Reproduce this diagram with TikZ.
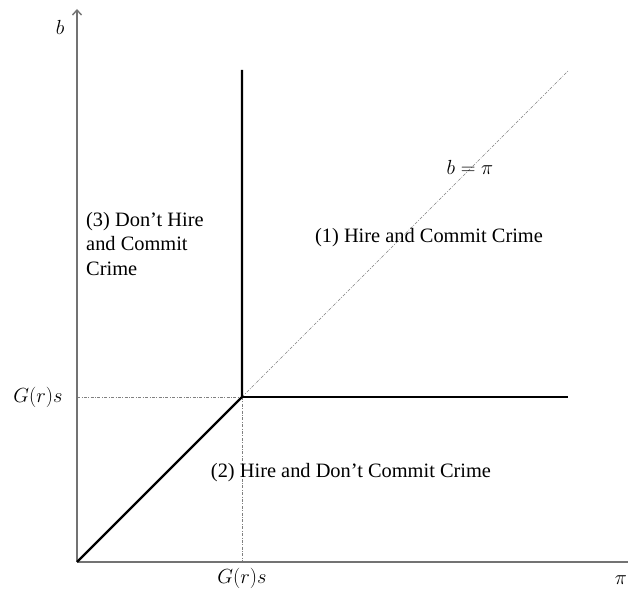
\documentclass[tikz,border=0pt]{standalone}
\usepackage{amsmath,amssymb}
\usepackage{fix-cm}
\usepackage{fontspec}
\setmainfont{Liberation Serif}
\usepackage{xcolor}
\usetikzlibrary{arrows.meta}

\begin{document}
\begin{tikzpicture}[x=1pt, y=1pt,
    every node/.style={font=\fontsize{20.4}{24.5}\selectfont},
    axis/.style={draw=gray!90!black, line width=1.4pt},
    border/.style={draw=black, line width=2.2pt},
    guide/.style={draw=gray, line width=0.7pt, dash pattern=on 3pt off 1.5pt on 0.8pt off 1.5pt}]
  \useasboundingbox (0,0) rectangle (628,591);
  \coordinate (O)    at (77,29);
  \coordinate (K)    at (242,194);
  \coordinate (ytop) at (77,582);
  \coordinate (xend) at (628,29);
  \coordinate (vtop) at (242,521);
  \coordinate (hend) at (568,194);
  \coordinate (dtop) at (568,520);
  % guides
  \draw[guide] (O |- K) -- (K);
  \draw[guide] (K) -- (K |- O);
  \draw[guide] (K) -- (dtop);
  % axes
  \draw[axis, -{Straight Barb[length=5pt,width=9pt]}] (O) -- (ytop);
  \draw[axis] (O) -- (xend);
  % boundaries
  \draw[border] (O) -- (K) -- (vtop);
  \draw[border] (K) -- (hend);
  % labels
  \node (lb)   at (60,564)  {$b$};
  \node (lpi)  at (621,11)  {$\pi$};
  \node (lgy)  at (38,194)  {$G(r)s$};
  \node (lgx)  at (242,13)  {$G(r)s$};
  \node (ldiag) at (470,424) {$b=\pi$};
  \node (reg1) at (429,353) {(1) Hire and Commit Crime};
  \node (reg2) at (351,118) {(2) Hire and Don’t Commit Crime};
  \node[anchor=west, align=left, inner sep=0pt] (reg3) at (86,347)
    {(3) Don’t Hire\\and Commit\\Crime};
\end{tikzpicture}
\end{document}
